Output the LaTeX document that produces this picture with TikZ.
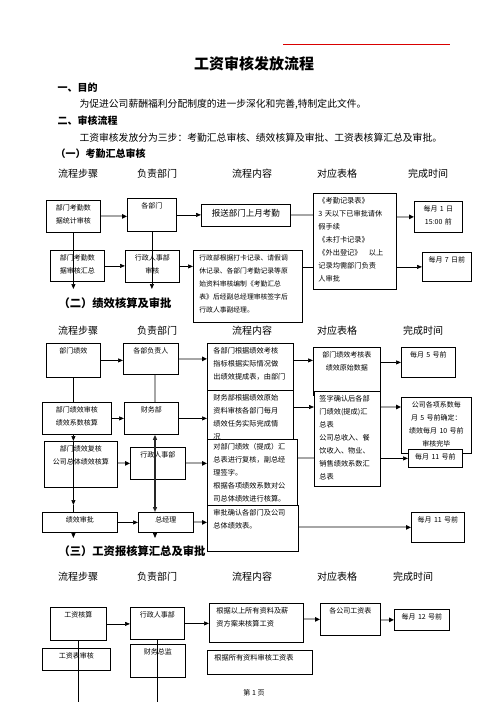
\documentclass[tikz,border=0pt]{standalone}
\usepackage{fontspec}
\setmainfont{Noto Sans CJK SC}
\usetikzlibrary{arrows.meta}

\begin{document}
\begin{tikzpicture}[x=1pt, y=-1pt,
  >={Triangle[length=5pt,width=4pt]},
  box/.style={
    draw, fill=white, anchor=north west, line width=0.8pt,
    inner xsep=2pt, inner ysep=3.5pt, text height=7pt, align=center,
    font=\fontsize{7}{13}\selectfont
  },
  note/.style={box, align=left, inner xsep=6pt, font=\fontsize{7.2}{13}\selectfont},
  head/.style={font=\fontsize{10}{12}\selectfont},
  body/.style={anchor=west, font=\fontsize{9.8}{12}\selectfont},
  part/.style={anchor=west, font=\bfseries\fontsize{11.3}{13}\selectfont},
  arr/.style={->, line width=0.7pt},
  bline/.style={line width=0.7pt},
  garr/.style={-{Triangle[length=5pt,width=4.5pt,black]}, line width=2pt, gray!70},
  gline/.style={line width=2pt, gray!70}
]
\useasboundingbox (0,0) rectangle (496,702);

% page head
\draw[red!85!black, line width=0.8pt] (283,44) -- (450,44);
\node[font=\bfseries\fontsize{15}{18}\selectfont] (title) at (254,64) {工资审核发放流程};
\node[body, font=\bfseries\fontsize{10}{12}\selectfont] (aim) at (54,88) {一、目的};
\node[body] (aimtxt) at (76,104) {为促进公司薪酬福利分配制度的进一步深化和完善,特制定此文件。};
\node[body, font=\bfseries\fontsize{10}{12}\selectfont] (flow) at (54,121) {二、审核流程};
\node[body] (flowtxt) at (76,138) {工资审核发放分为三步：考勤汇总审核、绩效核算及审批、工资表核算汇总及审批。};
\node[body, font=\bfseries\fontsize{10}{12}\selectfont] (part1) at (52,154) {（一）考勤汇总审核};
\node[part] (part2) at (55,303) {（二）绩效核算及审批};
\node[part] (part3) at (55,551) {（三）工资报核算汇总及审批};

% column heads
\foreach \n/\y/\t in {1/174/428, 2/331/423, 3/577/413} {
  \node[head] (st\n) at (78,\y) {流程步骤};
  \node[head] (dp\n) at (157,\y) {负责部门};
  \node[head] (ct\n) at (252,\y) {流程内容};
  \node[head] (fm\n) at (337,\y) {对应表格};
  \node[head] (tm\n) at (\t,\y) {完成时间};
}

% (1) attendance
\node[box, text width=50pt, text depth=18pt] (a1) at (46,200) {部门考勤数\\据统计审核};
\node[box, text width=45pt, text depth=19pt] (b1) at (127,198) {各部门};
\node[box, text width=85pt, text height=9pt, text depth=6pt,
      font=\fontsize{8.5}{13}\selectfont] (c1) at (201,204) {报送部门上月考勤};
\node[note, inner xsep=5pt, text width=73pt, text depth=82pt] (d1) at (313,193)
  {《考勤记录表》\\3 天以下已审批请休\\假手续\\《未打卡记录》\\《外出登记》\quad 以上\\记录均需部门负责\\人审批};
\node[box, text width=44pt, text depth=17pt] (e1) at (414,201) {每月 1 日\\15:00 前};
\node[box, text width=50pt, text depth=17pt] (a2) at (50,250) {部门考勤数\\据审核汇总};
\node[box, text width=50pt, text depth=18pt] (b2) at (125,250) {行政人事部\\审核};
\node[note, text width=97pt, text depth=58pt, font=\fontsize{6.8}{13}\selectfont] (c2) at (193,250)
  {行政部根据打卡记录、请假调\\休记录、各部门考勤记录等原\\始资料审核编制《考勤汇总\\表》后经副总经理审核签字后\\行政人事副经理。};
\node[box, text width=45pt, text depth=15pt] (e2) at (422,252) {每月 7 日前};

% (2) performance
\node[box, text width=50pt, text depth=20pt] (a3) at (46,343) {部门绩效};
\node[box, text width=51pt, text depth=17pt] (b3) at (123,343) {各部负责人};
\node[note, text width=74pt, text depth=43pt] (c3) at (207,343)
  {各部门根据绩效考核\\指标根据实际情况做\\出绩效提成表，由部门};
\node[box, text width=63pt, text depth=34pt] (d3) at (313,347) {部门绩效考核表\\绩效原始数据};
\node[box, text width=50pt, text depth=16pt] (e3) at (401,347) {每月 5 号前};
\node[box, text width=65pt, text depth=18pt] (a4) at (42,402) {部门绩效审核\\绩效系数核算};
\node[box, text width=50pt, text depth=18pt] (b4) at (124,402) {财务部};
\node[note, text width=74pt, text depth=40pt] (c4) at (207,390)
  {财务部根据绩效原始\\资料审核各部门每月\\绩效任务实际完成情\\况};
\node[note, inner xsep=5pt, text width=56pt, text depth=81pt] (d4) at (314,391)
  {签字确认后各部\\门绩效(提成)汇\\总表\\公司总收入、餐\\饮收入、物业、\\销售绩效系数汇\\总表};
\node[box, text width=66pt, text depth=42pt] (e4) at (401,397)
  {公司各项系数每\\月 5 号前确定：\\绩效每月 10 号前\\审核完毕};
\node[box, text width=50pt, text depth=4pt] (e5) at (408,449) {每月 11 号前};
\node[box, text width=69pt, text depth=32pt] (a5) at (44,441) {部门绩效复核\\公司总体绩效核算};
\node[box, text width=51pt, text depth=18pt] (b5) at (130,447) {行政人事部};
\node[note, text width=78pt, text depth=57pt] (c5) at (207,439)
  {对部门绩效（提成）汇\\总表进行复核，副总经\\理签字。\\根据各项绩效系数对公\\司总体绩效进行核算。};
\node[note, text width=79pt, text depth=32pt] (c6) at (207,505)
  {审批确认各部门及公司\\总体绩效表。};
\node[box, text width=71pt, text depth=6pt] (a6) at (42,512) {绩效审批};
\node[box, text width=51pt, text depth=6pt] (b6) at (138,512) {总经理};
\node[box, text width=49pt, text depth=16pt] (e6) at (411,512) {每月 11 号前};

% (3) payroll
\node[box, text width=52pt, text depth=19pt] (a7) at (50,607) {工资核算};
\node[box, text width=50pt, text depth=18pt] (b7) at (130,607) {行政人事部};
\node[note, inner xsep=7pt, text width=80pt, text depth=25pt] (c7) at (209,603)
  {根据以上所有资料及薪\\资方案来核算工资};
\node[box, text width=56pt, text depth=18pt] (d7) at (320,603) {各公司工资表};
\node[box, text width=51pt, text depth=7pt] (e7) at (394,609) {每月 12 号前};
\node[box, text width=64pt, text depth=8pt] (a8) at (42,648) {工资表审核};
\node[box, text width=51pt, text depth=19pt] (b8) at (130,644) {财务总监};
\node[note, inner xsep=7pt, text width=91pt, text depth=10pt] (c8) at (207,650) {根据所有资料审核工资表};
\node[font=\fontsize{7}{8}\selectfont] (pgno) at (254,693) {第 1 页};

\coordinate (midx) at (155,0);
\coordinate (s1end) at (0,289);
\coordinate (r4) at (0,407);
\coordinate (k2) at (0,505);
\coordinate (s2end) at (0,538);
\coordinate (pgbot) at (0,702);

% links (1)
\draw[garr] (a1.east) -- (a1.east -| b1.west);
\draw[arr] (b1.east) -- (b1.east -| c1.west);
\draw[gline] (c1.east) -- (c1.east -| d1.west);
\draw[garr] (d1.east |- e1.west) -- (e1.west);
\draw[arr] (a2.east) -- (a2.east -| b2.west);
\draw[arr] (b2.east) -- (b2.east -| c2.west);
\draw[bline] (c2.east |- e2.west) -- (d1.west |- e2.west);
\draw[arr] (d1.east |- e2.west) -- (e2.west);
\draw[arr] (a1.south) -- (a1.south |- s1end);
\draw[arr] (b1.south) -- (b1.south |- s1end);

% links (2)
\draw[arr] (a3.east) -- (a3.east -| b3.west);
\draw[garr] (b3.east) -- (b3.east -| c3.west);
\draw[arr] (c3.east |- a3.east) -- (d3.west |- a3.east);
\draw[arr] (d3.east |- e3.west) -- (e3.west);
\draw[gline] (b3.south -| midx) -- (b4.north -| midx);
\draw[arr] (a4.east) -- (a4.east -| b4.west);
\draw[arr] (b4.east) -- (b4.east -| c4.west);
\draw[arr] (c4.east |- r4) -- (d4.west |- r4);
\draw[garr] (d4.east |- r4) -- (e4.west |- r4);
\draw[arr] (d4.east |- e5.west) -- (e5.west);
\draw[garr] (a5.east |- b5.east) -- (b5.west);
\draw[garr] (b5.east) -- (b5.east -| c5.west);
\draw[gline] (c5.east |- e5.west) -- (d4.west |- e5.west);
\draw[arr] (a6.east) -- (a6.east -| b6.west);
\draw[garr] (b6.east) -- (b6.east -| c6.west);
\draw[garr] (c6.east |- e6.west) -- (e6.west);
\draw[bline] (a3.south) -- (a3.south |- a4.north);
\draw[arr] (a4.south -| a3.south) -- (a5.north -| a3.south);
\draw[arr] (a5.north -| a3.south) -- (a3.south |- k2);
\draw[bline] (a3.south |- k2) -- (a6.north -| a3.south);
\draw[arr] (a6.south -| a3.south) -- (a3.south |- s2end);
\draw[line width=2pt, gray!30!black, <->] (b4.south -| midx) -- (b6.north -| midx);
\draw[arr] (b6.south -| midx) -- (midx |- s2end);

% links (3)
\draw[arr] (a7.east) -- (a7.east -| b7.west);
\draw[arr] (b7.east) -- (b7.east -| c7.west);
\draw[garr] (c7.east |- d7.west) -- (d7.west);
\draw[garr] (d7.east |- e7.west) -- (e7.west);
\draw[bline] (a7.south) -- (a7.south |- pgbot);
\draw[bline] (b7.south) -- (b7.south |- pgbot);

\end{tikzpicture}
\end{document}
